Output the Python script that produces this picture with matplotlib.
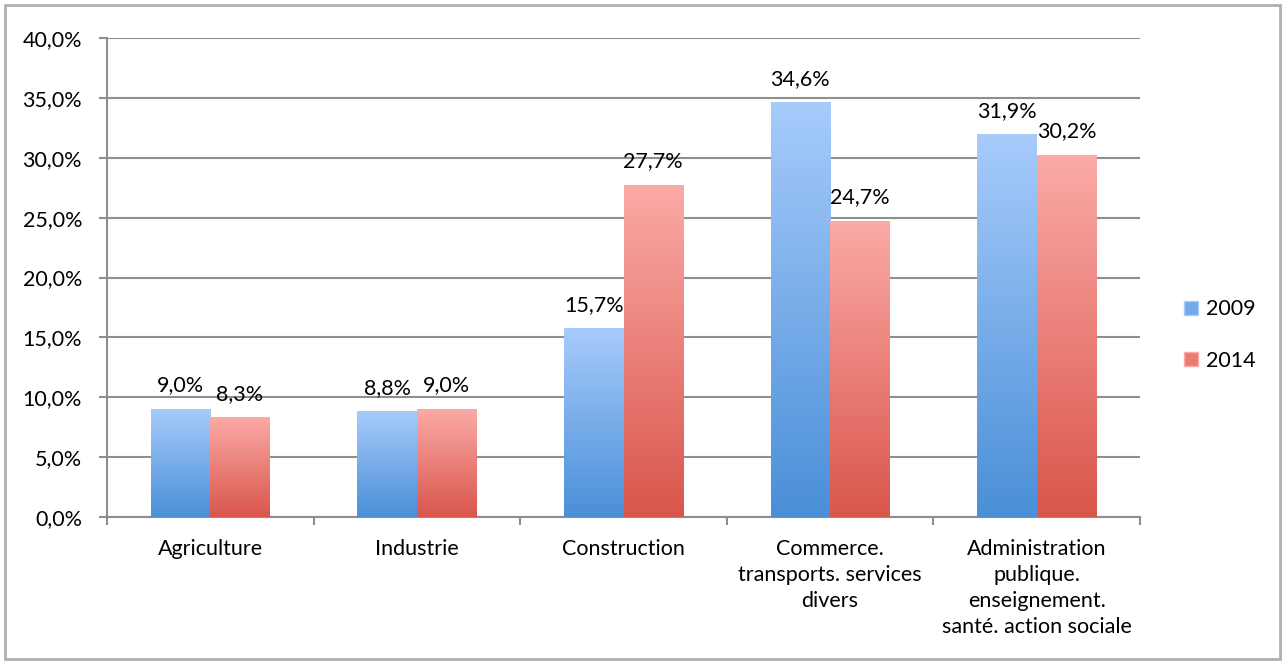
import numpy as np
import matplotlib.pyplot as plt
from matplotlib.colors import LinearSegmentedColormap
from matplotlib.patches import Rectangle, Patch

categories = ["Agriculture", "Industrie", "Construction",
              "Commerce.\ntransports. services\ndivers",
              "Administration\npublique.\nenseignement.\nsanté. action sociale"]
series_names = ["2009", "2014"]
values_2009 = [9.0, 8.8, 15.7, 34.6, 31.9]
values_2014 = [8.3, 9.0, 27.7, 24.7, 30.2]
y_ticks = [0, 5, 10, 15, 20, 25, 30, 35, 40]

plt.rcParams['font.family'] = ['Lato', 'DejaVu Sans']
fs = 15.5
grey = "#8e8e8e"

fig = plt.figure(figsize=(12.84, 6.61), dpi=100)
ax = fig.add_axes([107 / 1284, 1 - 517 / 661, (1140 - 107) / 1284, (517 - 38) / 661])

blue_cmap = LinearSegmentedColormap.from_list("b", ["#4a8fd8", "#a7cbfb"])
red_cmap = LinearSegmentedColormap.from_list("r", ["#d9564c", "#fbaaa6"])
grad = np.linspace(0, 1, 256).reshape(-1, 1)

x = np.arange(len(categories))
w = 0.288
for vals, offs, cmap in [(values_2009, -w / 2, blue_cmap), (values_2014, w / 2, red_cmap)]:
    for xi, v in zip(x, vals):
        x0 = xi + offs - w / 2
        ax.imshow(grad, extent=[x0, x0 + w, 0, v], origin="lower", aspect="auto",
                  cmap=cmap, zorder=3)
        ax.annotate(f"{v:.1f}%".replace(".", ","), (xi + offs, v), xytext=(0, 10),
                    textcoords="offset points", ha="center", va="bottom", fontsize=fs)

ax.set_xlim(-0.5, len(categories) - 0.5)
ax.set_ylim(0, 40)
ax.set_yticks(y_ticks)
ax.set_yticklabels([f"{t:.1f}%".replace(".", ",") for t in y_ticks], fontsize=fs)
ax.yaxis.grid(True, color=grey, lw=1.5, zorder=0)
ax.set_axisbelow(True)

ax.set_xticks(np.arange(len(categories) + 1) - 0.5)
ax.set_xticklabels([])
ax.set_xticks(x, minor=True)
ax.set_xticklabels(categories, minor=True, fontsize=fs, linespacing=1.36)
ax.tick_params(axis="x", which="minor", length=0, pad=16)
ax.tick_params(axis="x", which="major", length=6, color=grey, width=1.5)
ax.tick_params(axis="y", length=6, color=grey, width=1.5, pad=12)

for s in ["top", "right"]:
    ax.spines[s].set_visible(False)
for s in ["left", "bottom"]:
    ax.spines[s].set_color(grey)
    ax.spines[s].set_linewidth(1.5)

handles = [Patch(facecolor="#72a9ea", edgecolor="#a7cbfb"),
           Patch(facecolor="#ec7a73", edgecolor="#fbaaa6")]
fig.legend(handles, series_names, loc="center left",
           bbox_to_anchor=(1165 / 1284, 1 - 335 / 661), frameon=False,
           fontsize=fs, handlelength=0.65, handleheight=0.65, labelspacing=1.45,
           handletextpad=0.35)

fig.patches.append(Rectangle((5 / 1284, 2 / 661), 1275 / 1284, 654 / 661,
                             transform=fig.transFigure, fill=False,
                             edgecolor="#b0b0b0", lw=2))

fig.savefig("out.png", dpi=100)
